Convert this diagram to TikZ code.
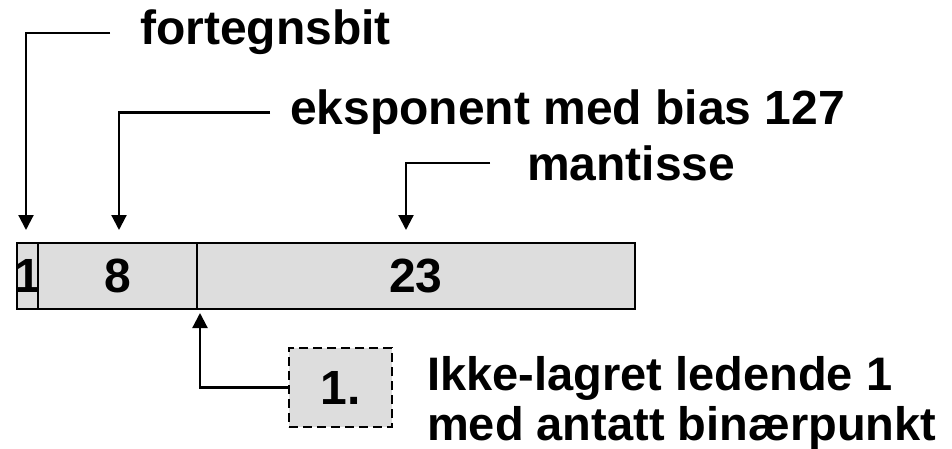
\documentclass[tikz,border=0pt]{standalone}
\usepackage{fontspec}
\setmainfont{Liberation Sans}
\usetikzlibrary{arrows.meta,positioning}

\definecolor{fieldgray}{RGB}{221,221,221}

\tikzstyle{field} = [draw, fill=fieldgray, line width=2.5pt, minimum height=66pt, inner sep=0pt, outer sep=0pt]
\tikzstyle{lbl} = [anchor=base west, inner sep=0pt, align=left]
\tikzstyle{ptr} = [line width=2.2pt, -{Triangle[length=15pt,width=15pt]}]

\begin{document}
\begin{tikzpicture}[x=1pt, y=-1pt, font=\fontsize{48}{50}\selectfont\bfseries]
    \useasboundingbox (0,0) rectangle (952,449);

    \node[field, minimum width=21pt] (sign) at (27.5,276) {\makebox[0pt]{1}};
    \node[field, minimum width=159pt, right=0pt of sign] (expo) {8};
    \node[field, minimum width=438pt, right=0pt of expo] (mant) {23};

    \node[lbl] (fortegn) at (140,45) {fortegnsbit};
    \node[lbl] (ekspo) at (290,125) {eksponent med bias 127};
    \node[lbl] (mantis) at (527,180) {mantisse};

    \node[draw, fill=fieldgray, line width=2.8pt, dash pattern=on 9pt off 5pt,
      minimum width=103pt, minimum height=79pt, inner sep=0pt] (hidden) at (340.5,387.5) {1.};
    \node[lbl, font=\fontsize{47}{50}\selectfont\bfseries] (ledende) at (427,440) {Ikke-lagret ledende 1\\med antatt binærpunkt};

    \coordinate (signtip) at (26,230);
    \coordinate (expotip) at (119,230);
    \coordinate (manttip) at (406,230);
    \coordinate (pointtip) at (200,313);

    \draw[ptr] ([xshift=-30pt]fortegn.west) -| (signtip);
    \draw[ptr] ([xshift=-20pt]ekspo.west) -| (expotip);
    \draw[ptr] ([xshift=-37pt]mantis.west) -| (manttip);
    \draw[ptr] (hidden.west) -| (pointtip);
  \end{tikzpicture}
\end{document}
